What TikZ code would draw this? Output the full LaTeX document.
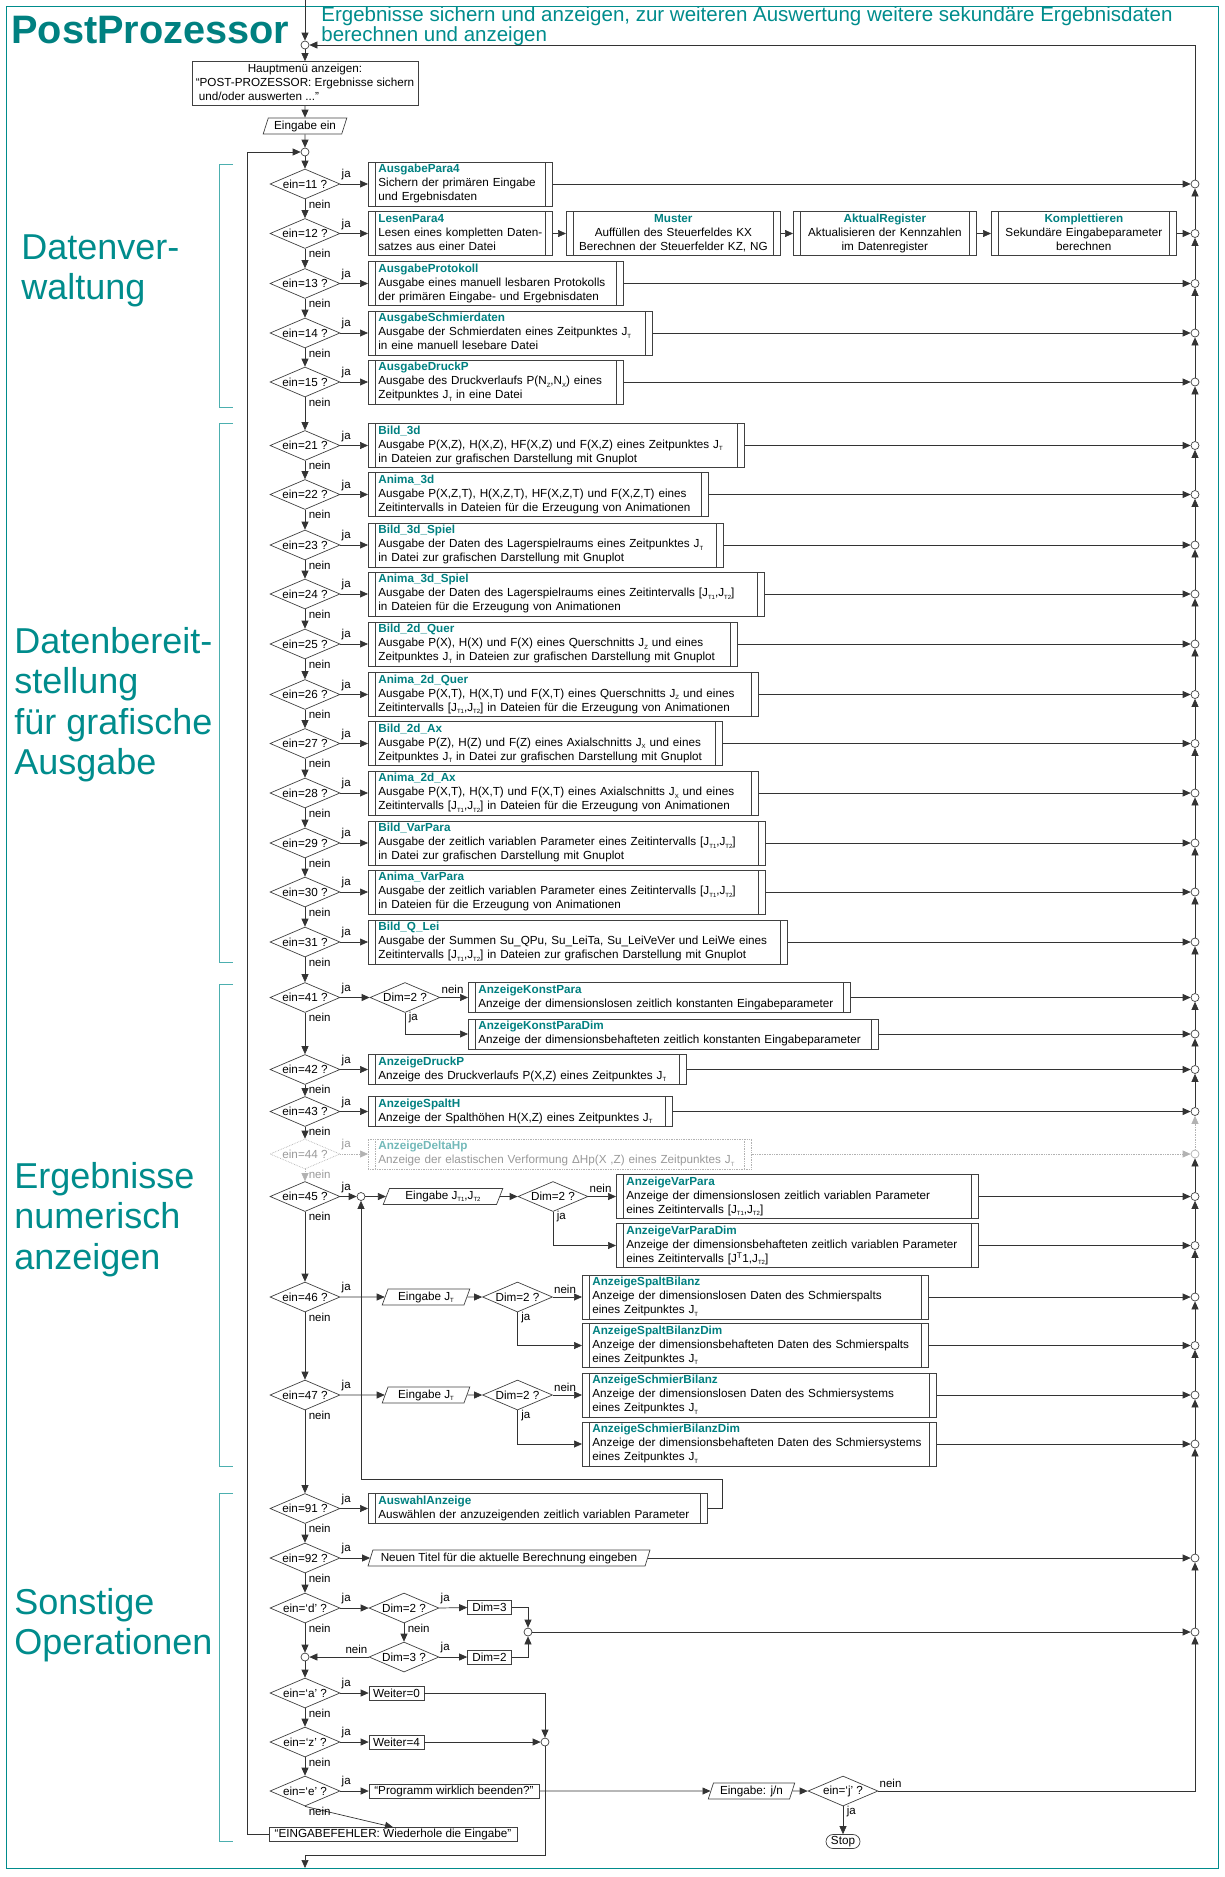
\documentclass[tikz,border=0pt]{standalone}
\usepackage{fontspec}
\setmainfont{Liberation Sans}
\usetikzlibrary{arrows.meta,positioning,shapes.geometric,shapes.misc}

\newcommand{\boxfont}{\fontsize{11.7}{14}\selectfont}
\newcommand{\lblfont}{\fontsize{11.5}{13}\selectfont}
\newcommand{\ttl}[1]{\textcolor{postteal}{\textbf{#1}}}
\newcommand{\ix}[1]{\raisebox{-0.4ex}{\fontsize{6}{6}\selectfont #1}}
\newcommand{\linesl}[1]{\begin{tabular}{@{}l@{}}#1\end{tabular}}
\newcommand{\linesc}[1]{\begin{tabular}{@{}c@{}}#1\end{tabular}}

\tikzset{
  every picture/.append style={line width=0.7pt},
}
\tikzset{
  procline/.style={draw=black!75},
  junction/.style={circle, draw=black!75, fill=white, inner sep=0pt, minimum size=8pt},
  lbl/.style={font=\lblfont, inner sep=1pt},
  eastlbl/.style={lbl, anchor=south west, yshift=2.5pt},
  southlbl/.style={lbl, anchor=west, xshift=2.5pt, yshift=-5pt},
  westlbl/.style={lbl, anchor=south east, yshift=2.5pt}
}

\begin{document}
\begin{tikzpicture}[
    x=1pt, y=-1pt,
    >={Triangle[length=8pt,width=7pt]},
    arrow/.style={->, draw=black!80},
    ghost/.style={draw=black!30, densely dotted, text=black!40},
    decision/.style={
        diamond,
        draw=black!75,
        aspect=2.33,
        minimum width=70pt,
        minimum height=30pt,
        inner sep=0pt,
        font=\boxfont
    },
    proc/.style={
        rectangle,
        draw=black!75,
        anchor=west,
        align=left,
        text width=#1,
        inner xsep=10pt,
        inner ysep=1pt,
        minimum height=44pt,
        font=\boxfont,
        path picture={
            \draw[procline] ([xshift=7pt]path picture bounding box.north west) -- ([xshift=7pt]path picture bounding box.south west);
            \draw[procline] ([xshift=-7pt]path picture bounding box.north east) -- ([xshift=-7pt]path picture bounding box.south east);
        }
    },
    io/.style={
        trapezium,
        trapezium left angle=70,
        trapezium right angle=110,
        trapezium stretches=true,
        draw=black!75,
        inner xsep=3pt,
        inner ysep=1pt,
        minimum height=16pt,
        minimum width=#1,
        font=\boxfont
    },
    plainbox/.style={rectangle, draw=black!75, minimum width=#1, minimum height=14pt, inner sep=1pt, font=\boxfont},
    grouplabel/.style={anchor=north west, align=left, inner sep=0pt, text=groupteal, font=\fontsize{36}{40.5}\selectfont},
    bracket/.style={draw=groupteal!70, line width=0.6pt}
]
% Color definitions
\definecolor{postteal}{RGB}{0,128,128}
\definecolor{groupteal}{RGB}{0,140,140}

\useasboundingbox (0,0) rectangle (1225,1877);
\draw[groupteal, line width=0.6pt] (6,6) rectangle (1218,1868);

% Headings
\node[anchor=base west, inner sep=0pt, text=postteal, font=\fontsize{39.7}{40}\selectfont\bfseries] (title) at (11,43) {PostProzessor};
\node[anchor=north west, inner sep=0pt, align=left, text=groupteal, font=\fontsize{20.5}{20.5}\selectfont] (intro) at (321,6) {Ergebnisse sichern und anzeigen, zur weiteren Auswertung weitere sekundäre Ergebnisdaten\\berechnen und anzeigen};

\node[grouplabel] (grp1) at (21,234) {Datenver-\\waltung};
\node[grouplabel] (grp2) at (14,627) {Datenbereit-\\stellung\\für grafische\\Ausgabe};
\node[grouplabel] (grp3) at (14,1162) {Ergebnisse\\numerisch\\anzeigen};
\node[grouplabel] (grp4) at (14,1588) {Sonstige\\Operationen};

\draw[bracket] (233,164) -- (219,164) -- (219,407) -- (233,407);
\draw[bracket] (233,423) -- (219,423) -- (219,962) -- (233,962);
\draw[bracket] (233,984) -- (219,984) -- (219,1466) -- (233,1466);
\draw[bracket] (233,1493) -- (219,1493) -- (219,1841) -- (233,1841);

% Start
\coordinate (entry) at (305,0);
\node[junction] (top) at (305,45) {};
\node[rectangle, draw=black!75, minimum width=226pt, minimum height=43pt, inner sep=1pt, font=\boxfont] (menu) at (305,83.5) {\linesl{\multicolumn{1}{@{}c@{}}{Hauptmenü anzeigen:}\\“POST-PROZESSOR: Ergebnisse sichern\\\hspace*{3pt}und/oder auswerten ...”}};
\node[io=84pt] (inp) at (305,126) {Eingabe ein};
\node[junction] (loop) at (305,152) {};

% Datenverwaltung
\node[decision] (d11) at (305,184) {ein=11 ?};
\node[proc=164pt] (ausgpara) at (368,184) {\linesl{\ttl{AusgabePara4}\\Sichern der primären Eingabe\\und Ergebnisdaten}};
\node[decision] (d12) at (305,233.5) {ein=12 ?};
\node[proc=164pt] (lesen) at (368,233.5) {\linesl{\ttl{LesenPara4}\\Lesen eines kompletten Daten-\\satzes aus einer Datei}};
\node[proc=194pt, align=center] (muster) at (566,233.5) {\linesc{\ttl{Muster}\\Auffüllen des Steuerfeldes KX\\Berechnen der Steuerfelder KZ, NG}};
\node[proc=163pt, align=center] (aktual) at (793,233.5) {\linesc{\ttl{AktualRegister}\\Aktualisieren der Kennzahlen\\im Datenregister}};
\node[proc=165pt, align=center] (kompl) at (991,233.5) {\linesc{\ttl{Komplettieren}\\Sekundäre Eingabeparameter\\berechnen}};
\node[decision] (d13) at (305,283.5) {ein=13 ?};
\node[proc=235pt] (protokoll) at (368,283.5) {\linesl{\ttl{AusgabeProtokoll}\\Ausgabe eines manuell lesbaren Protokolls\\der primären Eingabe- und Ergebnisdaten}};
\node[decision] (d14) at (305,333) {ein=14 ?};
\node[proc=264pt] (schmierdat) at (368,333) {\linesl{\ttl{AusgabeSchmierdaten}\\Ausgabe der Schmierdaten eines Zeitpunktes J\ix{T}\\in eine manuell lesebare Datei}};
\node[decision] (d15) at (305,382) {ein=15 ?};
\node[proc=235pt] (druckp) at (368,382) {\linesl{\ttl{AusgabeDruckP}\\Ausgabe des Druckverlaufs P(N\ix{Z},N\ix{X}) eines\\Zeitpunktes J\ix{T} in eine Datei}};

% Datenbereitstellung
\node[decision] (d21) at (305,445.5) {ein=21 ?};
\node[proc=356pt] (bild3d) at (368,445.5) {\linesl{\ttl{Bild\_3d}\\Ausgabe P(X,Z), H(X,Z), HF(X,Z) und F(X,Z) eines Zeitpunktes J\ix{T}\\in Dateien zur grafischen Darstellung mit Gnuplot}};
\node[decision] (d22) at (305,494.5) {ein=22 ?};
\node[proc=320pt] (anima3d) at (368,494.5) {\linesl{\ttl{Anima\_3d}\\Ausgabe P(X,Z,T), H(X,Z,T), HF(X,Z,T) und F(X,Z,T) eines\\Zeitintervalls in Dateien für die Erzeugung von Animationen}};
\node[decision] (d23) at (305,545) {ein=23 ?};
\node[proc=335pt] (bildspiel) at (368,545) {\linesl{\ttl{Bild\_3d\_Spiel}\\Ausgabe der Daten des Lagerspielraums eines Zeitpunktes J\ix{T}\\in Datei zur grafischen Darstellung mit Gnuplot}};
\node[decision] (d24) at (305,594) {ein=24 ?};
\node[proc=376pt] (animaspiel) at (368,594) {\linesl{\ttl{Anima\_3d\_Spiel}\\Ausgabe der Daten des Lagerspielraums eines Zeitintervalls [J\ix{T1},J\ix{T2}]\\in Dateien für die Erzeugung von Animationen}};
\node[decision] (d25) at (305,644) {ein=25 ?};
\node[proc=349pt] (bildquer) at (368,644) {\linesl{\ttl{Bild\_2d\_Quer}\\Ausgabe P(X), H(X) und F(X) eines Querschnitts J\ix{Z} und eines\\Zeitpunktes J\ix{T} in Dateien zur grafischen Darstellung mit Gnuplot}};
\node[decision] (d26) at (305,694.5) {ein=26 ?};
\node[proc=370pt] (animaquer) at (368,694.5) {\linesl{\ttl{Anima\_2d\_Quer}\\Ausgabe P(X,T), H(X,T) und F(X,T) eines Querschnitts J\ix{Z} und eines\\Zeitintervalls [J\ix{T1},J\ix{T2}] in Dateien für die Erzeugung von Animationen}};
\node[decision] (d27) at (305,743.5) {ein=27 ?};
\node[proc=334pt] (bildax) at (368,743.5) {\linesl{\ttl{Bild\_2d\_Ax}\\Ausgabe P(Z), H(Z) und F(Z) eines Axialschnitts J\ix{X} und eines\\Zeitpunktes J\ix{T} in Datei zur grafischen Darstellung mit Gnuplot}};
\node[decision] (d28) at (305,793) {ein=28 ?};
\node[proc=370pt] (animaax) at (368,793) {\linesl{\ttl{Anima\_2d\_Ax}\\Ausgabe P(X,T), H(X,T) und F(X,T) eines Axialschnitts J\ix{X} und eines\\Zeitintervalls [J\ix{T1},J\ix{T2}] in Dateien für die Erzeugung von Animationen}};
\node[decision] (d29) at (305,843) {ein=29 ?};
\node[proc=377pt] (bildvar) at (368,843) {\linesl{\ttl{Bild\_VarPara}\\Ausgabe der zeitlich variablen Parameter eines Zeitintervalls [J\ix{T1},J\ix{T2}]\\in Datei zur grafischen Darstellung mit Gnuplot}};
\node[decision] (d30) at (305,892) {ein=30 ?};
\node[proc=377pt] (animavar) at (368,892) {\linesl{\ttl{Anima\_VarPara}\\Ausgabe der zeitlich variablen Parameter eines Zeitintervalls [J\ix{T1},J\ix{T2}]\\in Dateien für die Erzeugung von Animationen}};
\node[decision] (d31) at (305,942) {ein=31 ?};
\node[proc=399pt] (bildqlei) at (368,942) {\linesl{\ttl{Bild\_Q\_Lei}\\Ausgabe der Summen Su\_QPu, Su\_LeiTa, Su\_LeiVeVer und LeiWe eines\\Zeitintervalls [J\ix{T1},J\ix{T2}] in Dateien zur grafischen Darstellung mit Gnuplot}};

% Ergebnisse numerisch anzeigen
\node[decision] (d41) at (305,997.5) {ein=41 ?};
\node[decision] (dim41) at (405,997.5) {Dim=2 ?};
\node[proc=362pt, minimum height=29pt] (konst) at (468,997.5) {\linesl{\ttl{AnzeigeKonstPara}\\Anzeige der dimensionslosen zeitlich konstanten Eingabeparameter}};
\node[proc=390pt, minimum height=29pt] (konstdim) at (468,1034) {\linesl{\ttl{AnzeigeKonstParaDim}\\Anzeige der dimensionsbehafteten zeitlich konstanten Eingabeparameter}};
\node[decision] (d42) at (305,1069.5) {ein=42 ?};
\node[proc=298pt, minimum height=29pt] (anzdruck) at (368,1069.5) {\linesl{\ttl{AnzeigeDruckP}\\Anzeige des Druckverlaufs P(X,Z) eines Zeitpunktes J\ix{T}}};
\node[decision] (d43) at (305,1111.5) {ein=43 ?};
\node[proc=284pt, minimum height=29pt] (anzspalth) at (368,1111.5) {\linesl{\ttl{AnzeigeSpaltH}\\Anzeige der Spalthöhen H(X,Z) eines Zeitpunktes J\ix{T}}};
\node[decision, ghost] (d44) at (305,1154) {ein=44 ?};
\node[proc=363pt, minimum height=29pt, ghost, procline/.style={draw=black!30, densely dotted}] (deltahp) at (368,1154) {\linesl{\textcolor{postteal!55}{\textbf{AnzeigeDeltaHp}}\\Anzeige der elastischen Verformung ΔHp(X ,Z) eines Zeitpunktes J\ix{T}}};
\node[decision] (d45) at (305,1196.5) {ein=45 ?};
\node[junction] (j45) at (361,1196.5) {};
\node[io=120pt] (in45) at (443,1196.5) {Eingabe J\ix{T1},J\ix{T2}};
\node[decision] (dim45) at (553,1196.5) {Dim=2 ?};
\node[proc=342pt] (varpara) at (616,1196.5) {\linesl{\ttl{AnzeigeVarPara}\\Anzeige der dimensionslosen zeitlich variablen Parameter\\eines Zeitintervalls [J\ix{T1},J\ix{T2}]}};
\node[proc=342pt] (varparadim) at (616,1245.5) {\linesl{\ttl{AnzeigeVarParaDim}\\Anzeige der dimensionsbehafteten zeitlich variablen Parameter\\eines Zeitintervalls [J\textsuperscript{T}1,J\ix{T2}]}};
\node[decision] (d46) at (305,1297) {ein=46 ?};
\node[io=88pt] (in46) at (426,1297) {Eingabe J\ix{T}};
\node[decision] (dim46) at (517.5,1297) {Dim=2 ?};
\node[proc=326pt] (spalt) at (582,1297) {\linesl{\ttl{AnzeigeSpaltBilanz}\\Anzeige der dimensionslosen Daten des Schmierspalts\\eines Zeitpunktes J\ix{T}}};
\node[proc=326pt] (spaltdim) at (582,1345.5) {\linesl{\ttl{AnzeigeSpaltBilanzDim}\\Anzeige der dimensionsbehafteten Daten des Schmierspalts\\eines Zeitpunktes J\ix{T}}};
\node[decision] (d47) at (305,1395) {ein=47 ?};
\node[io=88pt] (in47) at (426,1395) {Eingabe J\ix{T}};
\node[decision] (dim47) at (517.5,1395) {Dim=2 ?};
\node[proc=334pt] (schmier) at (582,1395) {\linesl{\ttl{AnzeigeSchmierBilanz}\\Anzeige der dimensionslosen Daten des Schmiersystems\\eines Zeitpunktes J\ix{T}}};
\node[proc=334pt] (schmierdim) at (582,1444) {\linesl{\ttl{AnzeigeSchmierBilanzDim}\\Anzeige der dimensionsbehafteten Daten des Schmiersystems\\eines Zeitpunktes J\ix{T}}};

% Sonstige Operationen
\node[decision] (d91) at (305,1508.5) {ein=91 ?};
\node[proc=319pt, minimum height=29pt] (auswahl) at (368,1508.5) {\linesl{\ttl{AuswahlAnzeige}\\Auswählen der anzuzeigenden zeitlich variablen Parameter}};
\node[decision] (d92) at (305,1558) {ein=92 ?};
\node[io=282pt] (titel) at (509,1558) {Neuen Titel für die aktuelle Berechnung eingeben};
\node[decision] (dd) at (305,1608) {ein=‘d’ ?};
\node[decision] (dim2d) at (404,1608) {Dim=2 ?};
\node[plainbox=44pt] (set3) at (489.5,1607.5) {Dim=3};
\node[decision] (dim3q) at (404,1657) {Dim=3 ?};
\node[plainbox=44pt] (set2) at (489.5,1657) {Dim=2};
\node[junction] (jd) at (528,1632) {};
\node[junction] (jm) at (305,1657) {};
\node[decision] (da) at (305,1693) {ein=‘a’ ?};
\node[plainbox=55pt] (w0) at (396.5,1693) {Weiter=0};
\node[decision] (dz) at (305,1742) {ein=‘z’ ?};
\node[plainbox=55pt] (w4) at (396.5,1742) {Weiter=4};
\node[junction] (jaz) at (545,1742) {};
\node[decision] (de) at (305,1791) {ein=‘e’ ?};
\node[plainbox=170pt] (quit) at (454,1791) {“Programm wirklich beenden?”};
\node[io=87pt] (yn) at (751.5,1791) {Eingabe: j/n};
\node[decision] (dj) at (843,1791) {ein=‘j’ ?};
\node[rounded rectangle, draw=black!75, minimum width=36pt, minimum height=14pt, inner sep=1pt, font=\boxfont] (stop) at (843,1841.5) {Stop};
\node[plainbox=248pt] (err) at (393,1834.5) {“EINGABEFEHLER: Wiederhole die Eingabe”};
\coordinate (exit) at (305,1868);
\coordinate (loopturn) at (722,1479);

% Right-hand return line
\foreach \n/\yy in {b11/184, b12/233.5, b13/283.5, b14/333, b15/382, b21/445.5, b22/494.5, b23/545, b24/594, b25/644, b26/694.5, b27/743.5, b28/793, b29/843, b30/892, b31/942, bk1/997.5, bk2/1034, b42/1069.5, b43/1111.5, bv1/1196.5, bv2/1245.5, bs1/1297, bs2/1345.5, bm1/1395, bm2/1444, b92/1558, bd/1632}
    \node[junction] (\n) at (1195,\yy) {};
\node[junction, draw=black!30] (b44) at (1195,1154) {};

% Arrows
\draw[arrow] (entry) -- (top);
\draw[arrow] (top) -- (menu);
\draw[arrow] (menu) -- (inp);
\draw[arrow] (inp) -- (loop);
\draw[arrow] (loop) -- (d11);

\foreach \a/\b in {d11/d12, d12/d13, d13/d14, d14/d15, d15/d21, d21/d22, d22/d23, d23/d24, d24/d25, d25/d26, d26/d27, d27/d28, d28/d29, d29/d30, d30/d31, d31/d41, d41/d42, d42/d43, d43/d44, d45/d46, d46/d47, d47/d91, d91/d92, d92/dd, da/dz, dz/de}
    \draw[arrow] (\a.south) -- (\b.north) node[at start, southlbl] {nein};
\draw[arrow, ghost] (d44.south) -- (d45.north) node[at start, southlbl] {nein};

\foreach \a/\b in {d11/ausgpara, d12/lesen, d13/protokoll, d14/schmierdat, d15/druckp, d21/bild3d, d22/anima3d, d23/bildspiel, d24/animaspiel, d25/bildquer, d26/animaquer, d27/bildax, d28/animaax, d29/bildvar, d30/animavar, d31/bildqlei, d41/dim41, d42/anzdruck, d43/anzspalth, d45/j45, d46/in46, d47/in47, d91/auswahl, d92/titel, dd/dim2d, da/w0, dz/w4, de/quit}
    \draw[arrow] (\a.east) -- (\b.west) node[at start, eastlbl] {ja};
\draw[arrow, ghost] (d44.east) -- (deltahp.west) node[at start, eastlbl] {ja};

\foreach \a/\b in {ausgpara/b11, kompl/b12, protokoll/b13, schmierdat/b14, druckp/b15, bild3d/b21, anima3d/b22, bildspiel/b23, animaspiel/b24, bildquer/b25, animaquer/b26, bildax/b27, animaax/b28, bildvar/b29, animavar/b30, bildqlei/b31, konst/bk1, konstdim/bk2, anzdruck/b42, anzspalth/b43, varpara/bv1, varparadim/bv2, spalt/bs1, spaltdim/bs2, schmier/bm1, schmierdim/bm2, titel/b92, jd/bd}
    \draw[arrow] (\a.east) -- (\b);
\draw[arrow, ghost] (deltahp.east) -- (b44);

\foreach \a/\b in {bd/b92, b92/bm2, bm2/bm1, bm1/bs2, bs2/bs1, bs1/bv2, bv2/bv1, bv1/b44, b43/b42, b42/bk2, bk2/bk1, bk1/b31, b31/b30, b30/b29, b29/b28, b28/b27, b27/b26, b26/b25, b25/b24, b24/b23, b23/b22, b22/b21, b21/b15, b15/b14, b14/b13, b13/b12, b12/b11}
    \draw[arrow] (\a) -- (\b);
\draw[arrow, ghost] (b44) -- (b43);
\draw[arrow] (b11) |- (top);

% Kette nach LesenPara4
\draw[arrow] (lesen) -- (muster);
\draw[arrow] (muster) -- (aktual);
\draw[arrow] (aktual) -- (kompl);

% Dim-Abfragen
\draw[arrow] (dim41.east) -- (konst.west) node[at start, eastlbl] {nein};
\draw[arrow] (dim41.south) |- (konstdim.west) node[at start, southlbl] {ja};
\draw[arrow] (j45) -- (in45);
\draw[arrow] (in45) -- (dim45);
\draw[arrow] (dim45.east) -- (varpara.west) node[at start, eastlbl] {nein};
\draw[arrow] (dim45.south) |- (varparadim.west) node[at start, southlbl] {ja};
\draw[arrow] (in46) -- (dim46);
\draw[arrow] (dim46.east) -- (spalt.west) node[at start, eastlbl] {nein};
\draw[arrow] (dim46.south) |- (spaltdim.west) node[at start, southlbl] {ja};
\draw[arrow] (in47) -- (dim47);
\draw[arrow] (dim47.east) -- (schmier.west) node[at start, eastlbl] {nein};
\draw[arrow] (dim47.south) |- (schmierdim.west) node[at start, southlbl] {ja};
\draw[arrow] (auswahl.east) -| (loopturn) -| (j45);

% Dimension umschalten
\draw[arrow] (dim2d.east) -- (set3.west) node[at start, eastlbl] {ja};
\draw[arrow] (set3.east) -| (jd);
\draw[arrow] (dim2d.south) -- (dim3q.north) node[at start, southlbl] {nein};
\draw[arrow] (dim3q.east) -- (set2.west) node[at start, eastlbl] {ja};
\draw[arrow] (set2.east) -| (jd);
\draw[arrow] (dim3q.west) -- (jm) node[at start, westlbl] {nein};
\draw[arrow] (dd.south) -- (jm) node[at start, southlbl] {nein};
\draw[arrow] (jm) -- (da);

% Weiter und Ende
\draw[arrow] (w0.east) -| (jaz);
\draw[arrow] (w4.east) -- (jaz);
\draw[arrow] (jaz) -- ++(0,113) -| (exit);
\draw[arrow] (quit) -- (yn);
\draw[arrow] (yn) -- (dj);
\draw[arrow] (dj.south) -- (stop.north) node[at start, southlbl] {ja};
\draw[arrow] (dj.east) -| (bd) node[at start, eastlbl] {nein};
\draw[arrow] (de.south) -- (err.north) node[at start, southlbl] {nein};
\draw[arrow] (err.west) -- ++(-21,0) |- (loop);

\end{tikzpicture}
\end{document}
